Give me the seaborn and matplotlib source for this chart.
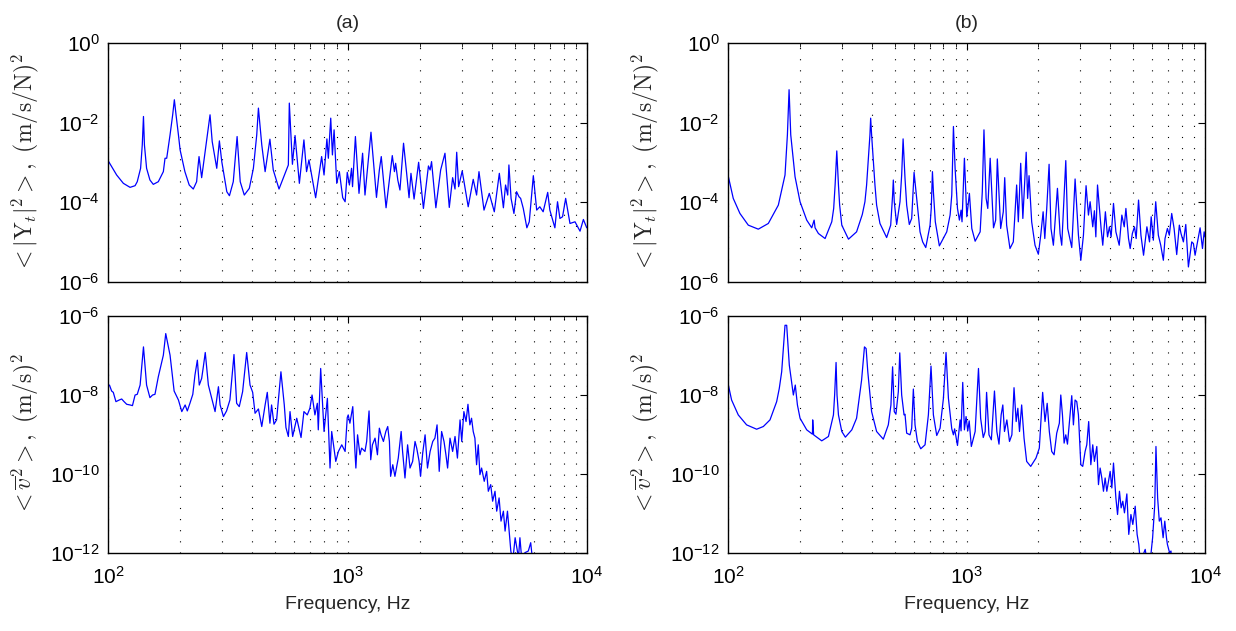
import numpy as np
import matplotlib
matplotlib.use("Agg")
import matplotlib.pyplot as plt
from matplotlib.ticker import NullLocator, LogLocator, NullFormatter
import seaborn as sns

# values, stored as log10 (frequency in Hz, level in panel units)

# (a) top: <|Yt|^2>
a_top_lf = [2.001, 2.036, 2.064, 2.092, 2.113, 2.122, 2.136, 2.143, 2.148, 2.152,
            2.161, 2.175, 2.189, 2.210, 2.231, 2.238, 2.245, 2.259, 2.270, 2.277,
            2.284, 2.294, 2.301, 2.321, 2.339, 2.356, 2.370, 2.375, 2.380, 2.391,
            2.415, 2.426, 2.435, 2.454, 2.465, 2.475, 2.496, 2.507, 2.523, 2.539,
            2.552, 2.569, 2.590, 2.607, 2.621, 2.628, 2.642, 2.656, 2.676, 2.690,
            2.714, 2.753, 2.757, 2.770, 2.781, 2.799, 2.818, 2.829, 2.839, 2.867,
            2.892, 2.902, 2.914, 2.920, 2.930, 2.937, 2.944, 2.955, 2.966, 2.980,
            2.990, 2.999, 3.008, 3.017, 3.021, 3.033, 3.048, 3.063, 3.073, 3.098,
            3.121, 3.133, 3.141, 3.161, 3.187, 3.196, 3.201, 3.210, 3.219, 3.234,
            3.247, 3.257, 3.265, 3.278, 3.297, 3.317, 3.338, 3.345, 3.351, 3.369,
            3.389, 3.407, 3.425, 3.439, 3.449, 3.456, 3.464, 3.479, 3.504, 3.525,
            3.539, 3.549, 3.570, 3.592, 3.613, 3.634, 3.651, 3.660, 3.669, 3.674,
            3.683, 3.695, 3.706, 3.716, 3.723, 3.734, 3.749, 3.759, 3.776, 3.790,
            3.803, 3.817, 3.836, 3.845, 3.866, 3.877, 3.887, 3.898, 3.911, 3.929,
            3.950, 3.971, 3.985, 3.999]
a_top_ly = [-2.961, -3.314, -3.523, -3.624, -3.582, -3.482, -3.146, -2.559, -1.846, -2.559,
            -3.146, -3.440, -3.549, -3.482, -3.230, -2.894, -2.894, -2.307, -1.804, -1.426,
            -1.804, -2.307, -2.685, -3.230, -3.565, -3.666, -3.482, -3.146, -2.852, -3.381,
            -2.307, -1.804, -2.475, -3.146, -2.458, -2.978, -3.733, -3.834, -3.482, -2.349,
            -3.482, -3.817, -3.649, -3.146, -2.307, -1.636, -2.559, -3.230, -2.416, -3.188,
            -3.666, -3.062, -1.510, -3.045, -2.324, -3.523, -2.433, -3.230, -2.936, -3.884,
            -2.852, -3.314, -2.408, -2.894, -1.888, -2.810, -2.181, -3.523, -3.230, -3.884,
            -3.985, -3.247, -3.565, -3.146, -3.607, -2.349, -3.775, -2.768, -3.817, -2.240,
            -3.876, -3.188, -2.852, -4.136, -2.827, -3.230, -3.020, -3.440, -3.691, -2.517,
            -3.272, -3.884, -3.272, -3.918, -2.995, -4.153, -3.087, -3.188, -2.978, -4.136,
            -3.188, -2.768, -4.128, -3.381, -3.666, -2.743, -3.607, -3.213, -4.111, -3.423,
            -3.817, -3.230, -4.195, -3.775, -4.237, -3.272, -4.136, -3.565, -3.817, -3.062,
            -3.901, -4.279, -3.733, -3.859, -3.901, -4.153, -4.639, -4.488, -3.331, -4.195,
            -4.111, -4.237, -3.750, -4.195, -4.639, -3.985, -4.404, -4.362, -3.901, -4.530,
            -4.488, -4.723, -4.430, -4.639]

# (b) top: <|Yt|^2>
b_top_lf = [2.000, 2.022, 2.050, 2.085, 2.127, 2.169, 2.211, 2.239, 2.249, 2.256,
            2.263, 2.281, 2.302, 2.330, 2.351, 2.361, 2.365, 2.379, 2.407, 2.435,
            2.443, 2.449, 2.456, 2.463, 2.468, 2.477, 2.505, 2.539, 2.563, 2.574,
            2.581, 2.595, 2.598, 2.602, 2.616, 2.623, 2.637, 2.665, 2.682, 2.690,
            2.693, 2.697, 2.707, 2.721, 2.728, 2.734, 2.742, 2.749, 2.760, 2.770,
            2.780, 2.788, 2.805, 2.816, 2.829, 2.847, 2.852, 2.857, 2.861, 2.869,
            2.886, 2.917, 2.931, 2.938, 2.945, 2.952, 2.962, 2.970, 2.977, 2.981,
            2.991, 3.001, 3.012, 3.022, 3.036, 3.057, 3.066, 3.073, 3.082, 3.089,
            3.099, 3.113, 3.122, 3.129, 3.143, 3.154, 3.160, 3.168, 3.182, 3.196,
            3.210, 3.217, 3.227, 3.236, 3.250, 3.256, 3.262, 3.273, 3.287, 3.301,
            3.311, 3.321, 3.328, 3.336, 3.346, 3.354, 3.364, 3.381, 3.392, 3.399,
            3.416, 3.424, 3.441, 3.455, 3.469, 3.479, 3.490, 3.501, 3.511, 3.518,
            3.529, 3.536, 3.542, 3.549, 3.557, 3.564, 3.571, 3.582, 3.591, 3.599,
            3.606, 3.616, 3.626, 3.640, 3.651, 3.661, 3.668, 3.679, 3.686, 3.695,
            3.704, 3.711, 3.721, 3.731, 3.742, 3.756, 3.767, 3.774, 3.783, 3.793,
            3.804, 3.814, 3.825, 3.832, 3.842, 3.850, 3.860, 3.870, 3.881, 3.892,
            3.899, 3.909, 3.919, 3.930, 3.944, 3.951, 3.958, 3.968, 3.979, 3.989,
            3.996, 4.000]
b_top_ly = [-3.314, -3.901, -4.279, -4.572, -4.673, -4.530, -4.069, -3.314, -2.307, -1.174,
            -2.307, -3.356, -3.985, -4.446, -4.639, -4.446, -4.639, -4.782, -4.908, -4.488,
            -4.153, -3.565, -2.710, -3.565, -4.069, -4.572, -4.924, -4.740, -4.304, -3.985,
            -3.565, -2.307, -1.888, -2.307, -3.565, -4.069, -4.530, -4.883, -4.572, -3.817,
            -3.440, -3.985, -4.555, -3.985, -3.314, -2.408, -3.398, -4.069, -4.555, -4.404,
            -3.247, -3.733, -4.740, -4.992, -5.134, -4.572, -4.153, -3.230, -3.733, -4.488,
            -5.092, -4.740, -4.320, -3.817, -2.097, -3.146, -4.153, -4.446, -4.195, -4.488,
            -2.894, -4.362, -3.775, -4.656, -4.975, -4.740, -3.733, -2.181, -3.901, -4.153,
            -2.894, -4.639, -4.446, -2.911, -4.656, -4.237, -3.381, -4.572, -5.159, -4.992,
            -3.565, -4.488, -3.020, -4.404, -2.743, -3.901, -3.331, -4.488, -5.076, -5.302,
            -4.824, -4.237, -4.908, -4.169, -3.045, -4.656, -5.076, -3.649, -4.782, -5.076,
            -2.953, -4.656, -5.134, -3.414, -4.824, -5.453, -4.824, -3.582, -4.320, -3.985,
            -4.614, -4.211, -4.866, -3.565, -4.153, -4.656, -5.076, -4.237, -4.866, -4.614,
            -4.866, -4.027, -4.740, -5.076, -4.320, -4.614, -4.153, -4.908, -5.159, -4.782,
            -4.614, -4.908, -3.943, -4.824, -5.327, -4.614, -4.992, -4.362, -4.950, -3.985,
            -4.824, -5.076, -5.453, -4.908, -4.656, -4.824, -4.279, -4.656, -5.310, -4.572,
            -4.782, -4.992, -4.555, -5.621, -4.992, -5.034, -5.327, -4.992, -4.639, -5.159,
            -4.740, -4.866]

# (a) bottom: <v^2>
a_bot_lf = [2.006, 2.015, 2.022, 2.033, 2.047, 2.057, 2.067, 2.078, 2.092, 2.102,
            2.113, 2.122, 2.134, 2.148, 2.161, 2.175, 2.186, 2.196, 2.210, 2.231,
            2.241, 2.259, 2.276, 2.294, 2.308, 2.322, 2.331, 2.342, 2.354, 2.363,
            2.373, 2.381, 2.391, 2.398, 2.406, 2.419, 2.440, 2.447, 2.461, 2.468,
            2.482, 2.495, 2.509, 2.526, 2.537, 2.548, 2.562, 2.579, 2.593, 2.604,
            2.614, 2.628, 2.642, 2.656, 2.665, 2.676, 2.683, 2.693, 2.704, 2.722,
            2.736, 2.743, 2.753, 2.760, 2.771, 2.788, 2.806, 2.818, 2.832, 2.843,
            2.852, 2.864, 2.874, 2.878, 2.888, 2.902, 2.916, 2.927, 2.934, 2.951,
            2.962, 2.976, 2.990, 2.999, 3.003, 3.010, 3.022, 3.031, 3.035, 3.042,
            3.052, 3.059, 3.073, 3.080, 3.090, 3.097, 3.104, 3.115, 3.125, 3.133,
            3.140, 3.150, 3.160, 3.168, 3.175, 3.180, 3.189, 3.198, 3.212, 3.224,
            3.230, 3.240, 3.251, 3.261, 3.272, 3.282, 3.289, 3.299, 3.305, 3.314,
            3.324, 3.334, 3.345, 3.356, 3.365, 3.374, 3.383, 3.393, 3.403, 3.411,
            3.418, 3.428, 3.439, 3.449, 3.459, 3.470, 3.477, 3.486, 3.495, 3.503,
            3.511, 3.518, 3.525, 3.532, 3.539, 3.546, 3.553, 3.560, 3.571, 3.581,
            3.588, 3.598, 3.606, 3.616, 3.623, 3.633, 3.641, 3.651, 3.658, 3.668,
            3.676, 3.682, 3.690, 3.700, 3.714, 3.720, 3.727, 3.741, 3.755, 3.765,
            3.773, 3.783]
a_bot_ly = [-7.748, -7.899, -7.933, -8.168, -8.126, -8.101, -8.168, -8.235, -8.252, -8.269,
            -8.000, -7.983, -7.748, -6.782, -7.748, -8.067, -8.000, -7.983, -7.538, -6.992,
            -6.445, -6.992, -7.899, -8.126, -8.420, -8.252, -8.403, -8.210, -7.983, -7.496,
            -7.118, -7.748, -7.580, -7.286, -6.924, -7.748, -8.252, -8.420, -7.790, -8.252,
            -8.546, -8.403, -8.126, -6.975, -8.210, -8.294, -7.916, -6.924, -7.748, -7.933,
            -8.462, -8.353, -8.798, -8.252, -7.933, -8.714, -8.252, -8.739, -8.630, -7.412,
            -8.252, -8.824, -9.050, -8.420, -9.050, -8.588, -9.076, -8.420, -8.504, -8.336,
            -8.000, -8.504, -8.210, -8.882, -7.328, -8.924, -8.084, -9.849, -8.924, -9.681,
            -9.429, -9.261, -9.429, -8.571, -8.504, -8.714, -8.294, -9.429, -9.849, -9.008,
            -9.513, -9.345, -9.429, -9.176, -8.403, -9.639, -9.261, -9.092, -9.513, -8.840,
            -9.008, -9.176, -8.924, -8.798, -9.176, -10.059, -9.765, -10.059, -9.597, -8.924,
            -9.429, -10.101, -9.261, -9.849, -9.681, -9.176, -9.345, -9.681, -10.059, -9.471,
            -9.008, -9.849, -9.429, -9.176, -9.092, -8.756, -9.933, -8.924, -9.176, -9.513,
            -9.849, -9.092, -9.429, -9.050, -9.597, -8.630, -9.176, -8.420, -8.672, -8.235,
            -8.756, -8.588, -8.924, -9.092, -9.765, -9.261, -10.017, -9.849, -10.185, -9.933,
            -10.437, -10.269, -10.689, -10.437, -10.941, -10.605, -11.193, -10.941, -11.445, -10.941,
            -11.529, -11.950, -12.200, -11.613, -12.118, -11.613, -12.118, -11.992, -11.950, -11.739,
            -12.200, -12.400]

# (b) bottom: <v^2>
b_bot_lf = [2.000, 2.015, 2.043, 2.078, 2.120, 2.148, 2.176, 2.204, 2.215, 2.225,
            2.239, 2.246, 2.257, 2.274, 2.282, 2.291, 2.302, 2.330, 2.354, 2.355,
            2.359, 2.393, 2.421, 2.442, 2.447, 2.453, 2.457, 2.463, 2.477, 2.492,
            2.519, 2.539, 2.560, 2.572, 2.579, 2.586, 2.602, 2.623, 2.651, 2.672,
            2.683, 2.690, 2.697, 2.704, 2.714, 2.720, 2.728, 2.738, 2.742, 2.749,
            2.763, 2.770, 2.777, 2.784, 2.794, 2.808, 2.826, 2.840, 2.851, 2.861,
            2.875, 2.889, 2.903, 2.914, 2.924, 2.938, 2.945, 2.950, 2.962, 2.973,
            2.977, 2.984, 2.991, 2.998, 3.005, 3.011, 3.020, 3.036, 3.050, 3.059,
            3.070, 3.078, 3.084, 3.094, 3.104, 3.117, 3.127, 3.136, 3.145, 3.152,
            3.159, 3.169, 3.180, 3.190, 3.199, 3.208, 3.215, 3.222, 3.231, 3.241,
            3.252, 3.269, 3.291, 3.305, 3.311, 3.319, 3.329, 3.338, 3.347, 3.357,
            3.367, 3.378, 3.389, 3.395, 3.402, 3.409, 3.416, 3.423, 3.430, 3.441,
            3.448, 3.455, 3.462, 3.469, 3.479, 3.487, 3.497, 3.504, 3.512, 3.521,
            3.529, 3.536, 3.546, 3.553, 3.560, 3.567, 3.574, 3.581, 3.588, 3.595,
            3.602, 3.609, 3.616, 3.626, 3.633, 3.641, 3.648, 3.655, 3.662, 3.672,
            3.680, 3.689, 3.697, 3.707, 3.715, 3.722, 3.728, 3.742, 3.749, 3.756,
            3.770, 3.780, 3.789, 3.794, 3.801, 3.808, 3.815, 3.824, 3.831, 3.838,
            3.842, 3.851, 3.857, 3.861]
b_bot_ly = [-7.706, -8.126, -8.504, -8.756, -8.866, -8.798, -8.630, -8.168, -7.832, -7.412,
            -6.235, -6.235, -7.244, -8.000, -7.748, -8.252, -8.588, -8.882, -8.992, -8.630,
            -9.008, -9.160, -9.050, -8.504, -8.000, -7.176, -8.000, -8.504, -8.924, -9.067,
            -8.882, -8.588, -7.622, -6.782, -6.824, -7.412, -8.420, -8.924, -9.118, -8.756,
            -8.252, -7.286, -8.420, -8.487, -7.916, -6.933, -8.000, -8.504, -8.487, -8.966,
            -9.008, -8.840, -7.849, -8.756, -9.176, -9.361, -9.261, -8.504, -7.269, -8.504,
            -9.025, -8.840, -8.084, -6.924, -8.084, -8.857, -9.008, -8.857, -9.277, -8.630,
            -8.908, -7.681, -8.882, -8.546, -8.908, -8.655, -9.303, -8.924, -7.328, -8.588,
            -9.076, -8.924, -7.933, -9.008, -9.134, -7.899, -8.924, -9.244, -8.504, -8.252,
            -8.924, -8.630, -9.176, -9.008, -7.815, -8.672, -8.336, -8.924, -8.252, -9.092,
            -9.681, -9.807, -9.597, -9.345, -8.756, -7.933, -8.672, -8.210, -8.924, -9.429,
            -9.513, -8.966, -8.714, -8.000, -8.504, -9.218, -9.008, -9.244, -8.756, -8.017,
            -8.756, -8.126, -8.168, -8.504, -9.765, -9.807, -9.429, -9.261, -8.672, -9.765,
            -9.261, -9.681, -9.303, -10.269, -9.849, -10.101, -10.437, -10.101, -10.437, -10.185,
            -9.933, -10.353, -9.723, -10.605, -11.025, -10.437, -10.857, -10.689, -10.983, -10.504,
            -11.529, -11.025, -11.277, -10.815, -11.529, -11.782, -12.200, -12.017, -11.908, -12.200,
            -12.200, -11.613, -10.773, -9.303, -10.605, -11.193, -11.109, -11.613, -11.193, -11.613,
            -11.782, -11.992, -11.950, -12.300]

panel_titles = ["(a)", "(b)"]
top_yticks = [1e0, 1e-2, 1e-4, 1e-6]
bot_yticks = [1e-6, 1e-8, 1e-10, 1e-12]
top_ylabel = r"$<|\mathrm{Y}_t|^2>,\ (\mathrm{m/s/N})^2$"
bot_ylabel = r"$<\overline{v}^2>,\ (\mathrm{m/s})^2$"


def main():
    sns.set_theme(style="white")
    plt.rcParams['font.family'] = ['Liberation Sans', 'DejaVu Sans']
    plt.rcParams['mathtext.fontset'] = 'custom'
    plt.rcParams['mathtext.rm'] = 'Liberation Sans'
    plt.rcParams['mathtext.it'] = 'Liberation Sans:italic'
    plt.rcParams['axes.edgecolor'] = 'black'
    plt.rcParams['axes.linewidth'] = 1.0
    plt.rcParams['xtick.color'] = 'black'
    plt.rcParams['ytick.color'] = 'black'

    fig = plt.figure(figsize=(12.36, 6.31), dpi=100)
    lefts = [0.0874, 0.589]
    widths = [0.3875, 0.386]
    curves = [((a_top_lf, a_top_ly), (a_bot_lf, a_bot_ly)),
              ((b_top_lf, b_top_ly), (b_bot_lf, b_bot_ly))]

    for col in range(2):
        ax_t = fig.add_axes([lefts[col], 0.553, widths[col], 0.379])
        ax_b = fig.add_axes([lefts[col], 0.1236, widths[col], 0.3756])
        for row, ax in enumerate([ax_t, ax_b]):
            lf, ly = curves[col][row]
            ax.set_xscale('log')
            ax.set_yscale('log')
            sns.lineplot(x=10 ** np.array(lf), y=10 ** np.array(ly), ax=ax,
                         color=(0, 0, 1), linewidth=0.9, estimator=None, sort=False)
            ax.set_xlim(1e2, 1e4)
            ax.xaxis.set_major_locator(LogLocator(base=10, numticks=10))
            ax.xaxis.set_minor_locator(LogLocator(base=10, subs=np.arange(2, 10), numticks=20))
            ax.xaxis.set_minor_formatter(NullFormatter())
            if row == 0:
                ax.set_ylim(1e-6, 1e0)
                ax.set_yticks(top_yticks)
                ax.set_xticklabels([])
                ax.set_ylabel(top_ylabel, fontsize=17, math_fontfamily='cm')
                ax.set_title(panel_titles[col], fontsize=14, pad=11)
            else:
                ax.set_ylim(1e-12, 1e-6)
                ax.set_yticks(bot_yticks)
                ax.set_ylabel(bot_ylabel, fontsize=17, math_fontfamily='cm')
                ax.set_xlabel("Frequency, Hz", fontsize=14, labelpad=6)
            ax.yaxis.set_minor_locator(NullLocator())
            ax.yaxis.set_label_coords(-0.14, 0.5)
            ax.grid(True, axis='x', which='both', color='black',
                    linestyle=(0, (1, 9)), linewidth=0.8)
            ax.tick_params(which='both', direction='in', top=True, right=True,
                           labelsize=15)
            ax.tick_params(axis='y', pad=6)
            ax.tick_params(axis='x', pad=9)
            ax.tick_params(which='major', length=5, width=0.8)
            ax.tick_params(which='minor', length=3, width=0.6)
            for s in ax.spines.values():
                s.set_visible(True)
                s.set_color('black')

    fig.savefig("out.png", dpi=100)


if __name__ == '__main__':
    main()
